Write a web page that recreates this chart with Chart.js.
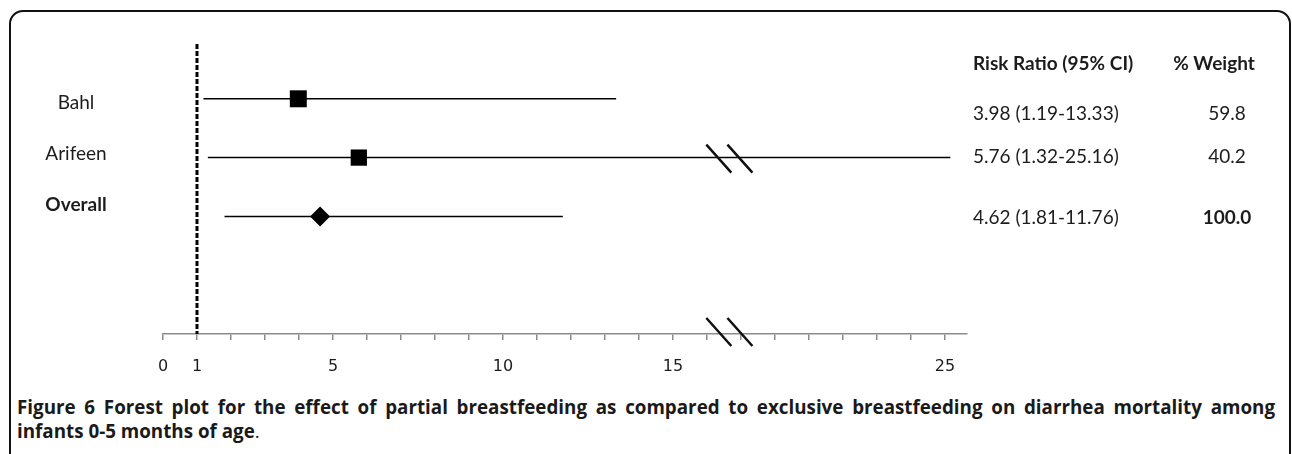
<!DOCTYPE html>
<html>
<head>
<meta charset="utf-8">
<script src="https://cdn.jsdelivr.net/npm/chart.js@4.4.1/dist/chart.umd.min.js"></script>
<style>
  body { margin: 0; background: #fff; width: 1292px; height: 454px; overflow: hidden; position: relative; }
  #frame { position: absolute; left: 9px; top: 10px; width: 1282px; height: 520px; border: 2px solid #111; border-radius: 14px; box-sizing: border-box; }
  #plot { position: absolute; left: 0; top: 0; }
  .caption { position: absolute; left: 17px; width: 1258px; font-family: "Open Sans", sans-serif; font-weight: 700; font-size: 18.8px; color: #1a1a1a; line-height: 24px; }
  #cap1 { top: 395px; text-align: justify; text-align-last: justify; }
  #cap2 { top: 419px; }
</style>
</head>
<body>
<div id="frame"></div>
<canvas id="plot" width="1292" height="380"></canvas>
<div class="caption" id="cap1">Figure 6 Forest plot for the effect of partial breastfeeding as compared to exclusive breastfeeding on diarrhea mortality among</div>
<div class="caption" id="cap2">infants 0-5 months of age<span style="font-weight:400">.</span></div>
<script>
// Study rows (top to bottom)
var studies = ['Bahl', 'Arifeen', 'Overall'];
var riskRatio = [3.98, 5.76, 4.62];
var ciLower = [1.19, 1.32, 1.81];
var ciUpper = [13.33, 25.16, 11.76];
var weights = ['59.8', '40.2', '100.0'];
var markerShape = ['rect', 'rect', 'rectRot'];

// labelled ticks on the x axis (real values)
var tickLabels = [0, 1, 5, 10, 15, 25];
var nullValue = 1;

// axis is cut between 16 and 20: values above the cut are pulled 2 units left
function toAxis(v) { return v > 18 ? v - 2 : v; }

// one tick mark per axis unit
var axisTicks = [];
for (var t = 0; t <= 23; t++) axisTicks.push(t);

// layout bits (not data)
var markerSize = [12, 11.5, 10];
var breakMarks = [16.35, 16.97];
var labelShift = [4, -4, -12];
var tableShift = [15, -1, 1];
var textColor = '#1c1c1c';

function drawSlashes(ctx, xs, y) {
  ctx.beginPath();
  xs.forEach(function (x) {
    ctx.moveTo(x - 12.5, y - 14);
    ctx.lineTo(x + 12.5, y + 14);
  });
  ctx.stroke();
}

var forestText = {
  id: 'forestText',
  afterDraw: function (chart) {
    var ctx = chart.ctx;
    var xs = chart.scales.x, ys = chart.scales.y;
    ctx.save();
    ctx.fillStyle = textColor;
    ctx.textBaseline = 'middle';

    // study labels
    ctx.textAlign = 'center';
    studies.forEach(function (name, i) {
      var bold = i === studies.length - 1;
      ctx.font = (bold ? 'bold ' : '') + '19px Lato';
      ctx.fillText(name, 76, ys.getPixelForValue(i + 1) + labelShift[i]);
    });

    // table on the right
    var top = chart.chartArea.top + 24;
    ctx.font = 'bold 19px Lato';
    ctx.textAlign = 'left';
    ctx.fillText('Risk Ratio (95% CI)', 973, top);
    ctx.textAlign = 'center';
    ctx.fillText('% Weight', 1214, top);
    studies.forEach(function (name, i) {
      var y = ys.getPixelForValue(i + 1) + tableShift[i];
      var bold = i === studies.length - 1;
      ctx.font = '19px Lato';
      ctx.textAlign = 'left';
      ctx.fillText(riskRatio[i].toFixed(2) + ' (' + ciLower[i].toFixed(2) + '-' + ciUpper[i].toFixed(2) + ')', 973, y);
      ctx.font = (bold ? 'bold ' : '') + '19px Lato';
      ctx.textAlign = 'center';
      ctx.fillText(weights[i], 1227, y);
    });

    // axis break marks
    var bx = breakMarks.map(function (v) { return xs.getPixelForValue(v); });
    ctx.strokeStyle = '#111';
    ctx.lineWidth = 2.5;
    drawSlashes(ctx, bx, chart.chartArea.bottom - 2);
    studies.forEach(function (name, i) {
      if (ciUpper[i] > 18) drawSlashes(ctx, bx, ys.getPixelForValue(i + 1) + 1);
    });
    ctx.restore();
  }
};

var datasets = [{
  data: riskRatio.map(function (v, i) { return { x: toAxis(v), y: i + 1 }; }),
  pointStyle: markerShape,
  pointRadius: markerSize,
  backgroundColor: '#000',
  borderColor: '#000',
  borderWidth: 0,
  clip: false
}];

studies.forEach(function (name, i) {
  datasets.push({
    data: [{ x: toAxis(ciLower[i]), y: i + 1 }, { x: toAxis(ciUpper[i]), y: i + 1 }],
    showLine: true,
    borderColor: '#000',
    borderWidth: 1.5,
    pointRadius: 0,
    clip: false
  });
});

// dashed line of no effect
datasets.push({
  data: [{ x: toAxis(nullValue), y: 0.07 }, { x: toAxis(nullValue), y: 5 }],
  showLine: true,
  borderColor: '#000',
  borderWidth: 3,
  borderDash: [5, 2],
  pointRadius: 0,
  clip: false
});

var ctx = document.getElementById('plot').getContext('2d');
new Chart(ctx, {
  type: 'scatter',
  data: { datasets: datasets },
  options: {
    responsive: false,
    animation: false,
    layout: { padding: { left: 163, right: 325, top: 40, bottom: 0 } },
    plugins: { legend: { display: false }, tooltip: { enabled: false } },
    scales: {
      x: {
        type: 'linear',
        min: 0,
        max: 23.65,
        afterBuildTicks: function (scale) {
          scale.ticks = axisTicks.map(function (v) { return { value: v }; });
        },
        afterFit: function (scale) { scale.height = 46; },
        border: { display: true, color: '#8c8c8c', width: 1.5 },
        grid: { drawOnChartArea: false, drawTicks: true, tickLength: 6, color: '#8c8c8c', lineWidth: 1.5 },
        ticks: {
          autoSkip: false,
          maxRotation: 0,
          padding: 17,
          color: textColor,
          font: { family: 'DejaVu Sans', size: 16 },
          callback: function (v) {
            for (var k = 0; k < tickLabels.length; k++) {
              if (toAxis(tickLabels[k]) === v) return String(tickLabels[k]);
            }
            return '';
          }
        }
      },
      y: { type: 'linear', min: 0, max: 5, reverse: true, display: false }
    }
  },
  plugins: [forestText]
});
</script>
</body>
</html>
